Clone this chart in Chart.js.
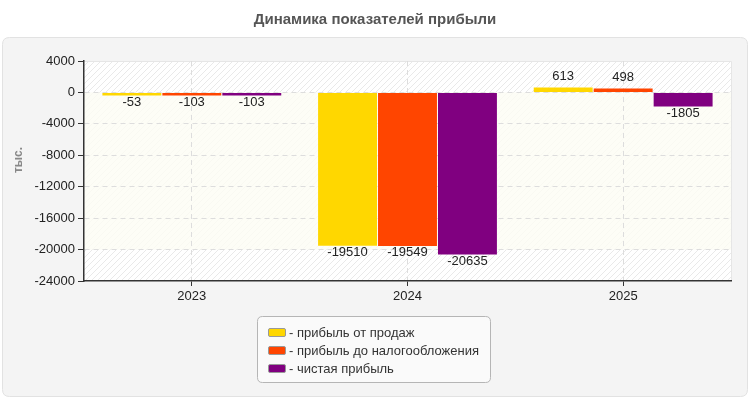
<!DOCTYPE html>
<html>
<head>
<meta charset="utf-8">
<script src="https://cdn.jsdelivr.net/npm/chart.js@4/dist/chart.umd.min.js"></script>
<style>
html,body{margin:0;padding:0;background:#fff;}
#wrap{position:relative;width:750px;height:400px;}
</style>
</head>
<body>
<div id="wrap"><canvas id="c" width="750" height="400"></canvas></div>
<script>
const categories = ["2023", "2024", "2025"];
const seriesNames = ["прибыль от продаж", "прибыль до налогообложения", "чистая прибыль"];
const salesProfit = [-53, -19510, 613];
const pretaxProfit = [-103, -19549, 498];
const netProfit = [-103, -20635, -1805];
const seriesColors = ["#FFD700", "#FF4500", "#800080"];
const yTicks = [4000, 0, -4000, -8000, -12000, -16000, -20000, -24000];
const chartTitle = "Динамика показателей прибыли";
const yAxisTitle = "тыс.";

const FONT = "'Liberation Sans', Arial, sans-serif";

function makeHatch(ctx){
  const p = document.createElement('canvas');
  p.width = 6; p.height = 6;
  const g = p.getContext('2d');
  g.fillStyle = '#ffffff'; g.fillRect(0,0,6,6);
  g.strokeStyle = '#e9e9e9'; g.lineWidth = 1;
  g.beginPath();
  g.moveTo(0,6); g.lineTo(6,0);
  g.moveTo(-3,3); g.lineTo(3,-3);
  g.moveTo(3,9); g.lineTo(9,3);
  g.stroke();
  return ctx.createPattern(p, 'repeat');
}

function roundRect(ctx, x, y, w, h, r){
  ctx.beginPath();
  ctx.moveTo(x+r, y);
  ctx.lineTo(x+w-r, y); ctx.quadraticCurveTo(x+w, y, x+w, y+r);
  ctx.lineTo(x+w, y+h-r); ctx.quadraticCurveTo(x+w, y+h, x+w-r, y+h);
  ctx.lineTo(x+r, y+h); ctx.quadraticCurveTo(x, y+h, x, y+h-r);
  ctx.lineTo(x, y+r); ctx.quadraticCurveTo(x, y, x+r, y);
  ctx.closePath();
}

const decorPlugin = {
  id: 'decor',
  beforeDraw(chart){
    const ctx = chart.ctx;
    const a = chart.chartArea;
    const y = chart.scales.y;
    ctx.save();
    ctx.fillStyle = '#ffffff';
    ctx.fillRect(0,0,chart.width,chart.height);
    // title
    ctx.fillStyle = '#555555';
    ctx.font = "bold 15px " + FONT;
    ctx.textAlign = 'center';
    ctx.textBaseline = 'middle';
    ctx.fillText(chartTitle, 375, 20);
    // panel
    roundRect(ctx, 2.5, 37.5, 745, 359, 7);
    ctx.fillStyle = '#f4f4f4';
    ctx.fill();
    ctx.strokeStyle = '#e2e2e2';
    ctx.lineWidth = 1;
    ctx.stroke();
    // plot background
    ctx.fillStyle = makeHatch(ctx);
    ctx.fillRect(a.left, a.top, a.right-a.left, a.bottom-a.top);
    const y0 = y.getPixelForValue(0), y1 = y.getPixelForValue(-20000);
    ctx.fillStyle = 'rgba(253,253,244,0.8)';
    ctx.fillRect(a.left, y0, a.right-a.left, y1-y0);
    ctx.strokeStyle = '#e6e6e6';
    ctx.beginPath(); ctx.moveTo(a.left, a.top+0.5); ctx.lineTo(a.right+0.5, a.top+0.5); ctx.lineTo(a.right+0.5, a.bottom); ctx.stroke();
    // y axis title
    ctx.save();
    ctx.translate(19, 160);
    ctx.rotate(-Math.PI/2);
    ctx.fillStyle = '#888888';
    ctx.font = "bold 12px " + FONT;
    ctx.textAlign = 'center';
    ctx.textBaseline = 'middle';
    ctx.fillText(yAxisTitle, 0, 0);
    ctx.restore();
    ctx.restore();
  },
  afterDraw(chart){
    const ctx = chart.ctx;
    ctx.save();
    ctx.font = "13px " + FONT;
    ctx.fillStyle = '#222222';
    ctx.textAlign = 'center';
    chart.data.datasets.forEach((ds, di) => {
      const meta = chart.getDatasetMeta(di);
      meta.data.forEach((bar, i) => {
        const v = ds.data[i];
        if (v >= 0){
          ctx.textBaseline = 'bottom';
          ctx.fillText(String(v), bar.x, bar.y - 5);
        } else {
          ctx.textBaseline = 'top';
          ctx.fillText(String(v), bar.x, bar.y);
        }
      });
    });
    // legend
    roundRect(ctx, 257.5, 316.5, 233, 66, 5);
    ctx.fillStyle = '#fafafa';
    ctx.fill();
    ctx.strokeStyle = '#b5b5b5';
    ctx.lineWidth = 1;
    ctx.stroke();
    ctx.textAlign = 'left';
    ctx.textBaseline = 'middle';
    ctx.font = "13px " + FONT;
    seriesNames.forEach((name, i) => {
      const cy = 333 + i*18;
      roundRect(ctx, 268.5, cy-4.5, 17, 8, 1.5);
      ctx.fillStyle = seriesColors[i];
      ctx.fill();
      ctx.strokeStyle = '#999999';
      ctx.stroke();
      ctx.fillStyle = '#333333';
      ctx.fillText('- ' + name, 289, cy);
    });
    ctx.restore();
  }
};

const allSeries = [salesProfit, pretaxProfit, netProfit];
new Chart(document.getElementById('c'), {
  type: 'bar',
  data: {
    labels: categories,
    datasets: seriesNames.map((n, i) => ({
      label: n,
      data: allSeries[i],
      backgroundColor: seriesColors[i],
      borderWidth: 0,
      categoryPercentage: 0.834,
      barPercentage: 0.983,
      minBarLength: 3
    }))
  },
  options: {
    responsive: false,
    animation: false,
    events: [],
    layout: { padding: { left: 0, right: 19, top: 61, bottom: 0 } },
    plugins: { legend: { display: false }, title: { display: false }, tooltip: { enabled: false } },
    scales: {
      x: {
        grid: { display: true, offset: false, color: '#dddddd', tickBorderDash: [], tickColor: '#333333', tickLength: 5, drawTicks: true },
        border: { display: true, color: '#333333', width: 1.5, dash: [5,4] },
        ticks: { color: '#222222', font: { family: FONT, size: 13 }, padding: 3 },
        afterFit(s){ s.height = 119; }
      },
      y: {
        min: -24000, max: 4000,
        afterBuildTicks(s){ s.ticks = yTicks.map(v => ({ value: v })); },
        grid: { color: (c) => (c.tick && (c.tick.value === 4000 || c.tick.value === -24000)) ? 'rgba(0,0,0,0)' : '#dddddd', tickBorderDash: [], tickColor: '#333333', tickLength: 6 },
        border: { display: true, color: '#333333', width: 1.5, dash: [5,4] },
        ticks: { color: '#222222', font: { family: FONT, size: 13 }, padding: 3, callback: (v) => String(v) },
        afterFit(s){ s.width = 84; }
      }
    }
  },
  plugins: [decorPlugin]
});
</script>
</body>
</html>
